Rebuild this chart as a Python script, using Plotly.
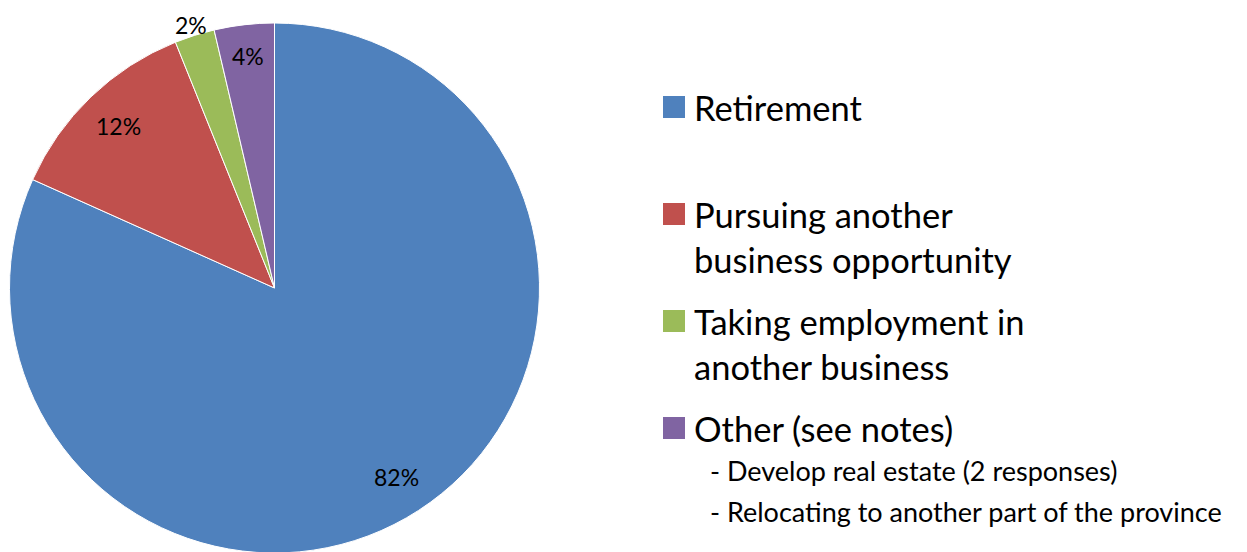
import math
import plotly.graph_objects as go

categories = ["Retirement", "Pursuing another business opportunity",
              "Taking employment in another business", "Other (see notes)"]
legend_lines = [["Retirement"],
                ["Pursuing another", "business opportunity"],
                ["Taking employment in", "another business"],
                ["Other (see notes)"]]
notes = ["- Develop real estate (2 responses)",
         "- Relocating to another part of the province"]
counts = [67, 10, 2, 3]
colors = ["#4F81BD", "#C0504D", "#9BBB59", "#8064A2"]
label_radius = [0.85, 0.85, 1.04, 0.88]

W, H = 1247, 552
OFF = 8  # page offset of the plot div
FONT = "Lato"

def px_x(x):
    return (x - OFF) / W

def px_y(y):
    return 1 - (y - OFF) / H

dom_x = [px_x(9), px_x(540)]
dom_y = [px_y(553), px_y(23)]

fig = go.Figure(go.Pie(
    labels=categories, values=counts, sort=False, direction="clockwise",
    rotation=0, textinfo="none", hoverinfo="label+percent",
    marker=dict(colors=colors, line=dict(color="white", width=1)),
    domain=dict(x=dom_x, y=dom_y), showlegend=False,
))

# pie geometry in page pixels (derived from domain)
cx = (dom_x[0] + dom_x[1]) / 2 * W + OFF
cy = (1 - (dom_y[0] + dom_y[1]) / 2) * H + OFF
R = min((dom_x[1] - dom_x[0]) * W, (dom_y[1] - dom_y[0]) * H) / 2

total = sum(counts)
annotations = []
cum = 0.0
for v, f in zip(counts, label_radius):
    mid = (cum + v / 2) / total * 2 * math.pi
    cum += v
    px = cx + f * R * math.sin(mid)
    py = cy - f * R * math.cos(mid)
    annotations.append(dict(
        x=px_x(px), y=px_y(py), xref="paper", yref="paper",
        text=f"{round(v / total * 100)}%", showarrow=False,
        xanchor="center", yanchor="middle", borderpad=0,
        font=dict(family=FONT, size=23, color="#000000")))

# legend built from categories
shapes = []
first_line_y = [107, 214, 321, 428]
big_gap = 45
for lines, col, y0 in zip(legend_lines, colors, first_line_y):
    shapes.append(dict(type="rect", xref="paper", yref="paper",
                       x0=px_x(663), x1=px_x(685),
                       y0=px_y(y0 + 11), y1=px_y(y0 - 11),
                       fillcolor=col, line=dict(width=0)))
    for i, t in enumerate(lines):
        yy = y0 + i * big_gap
        annotations.append(dict(
            x=px_x(692), y=px_y(yy), xref="paper", yref="paper",
            text=t, showarrow=False, xanchor="left", yanchor="middle",
            font=dict(family=FONT, size=34.5, color="#000000")))
for i, t in enumerate(notes):
    yy = 470 + i * 42
    annotations.append(dict(
        x=px_x(708), y=px_y(yy), xref="paper", yref="paper",
        text=t, showarrow=False, xanchor="left", yanchor="middle",
        font=dict(family=FONT, size=27, color="#000000")))

fig.update_layout(
    width=W, height=H, margin=dict(l=0, r=0, t=0, b=0),
    paper_bgcolor="white", plot_bgcolor="white",
    annotations=annotations, shapes=shapes,
)
fig.write_html("out.html")
